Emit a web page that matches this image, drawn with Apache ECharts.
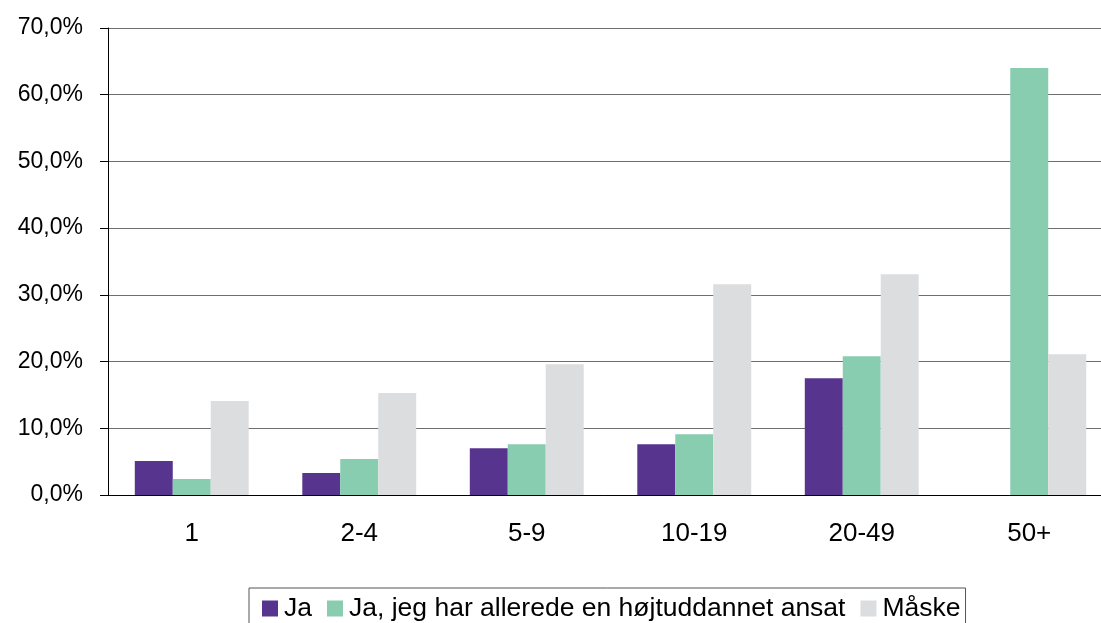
<!DOCTYPE html>
<html>
<head>
<meta charset="utf-8">
<script src="https://cdn.jsdelivr.net/npm/echarts@6/dist/echarts.min.js"></script>
<style>html,body{margin:0;padding:0;background:#fff;overflow:hidden}#c{width:1101px;height:623px}</style>
</head>
<body>
<div id="c"></div>
<script>
const categories = ['1', '2-4', '5-9', '10-19', '20-49', '50+'];
const seriesNames = ['Ja', 'Ja, jeg har allerede en højtuddannet ansat', 'Måske'];
const ja = [5.1, 3.3, 7.0, 7.6, 17.5, 0];
const jaAnsat = [2.4, 5.4, 7.6, 9.1, 20.8, 64.0];
const maaske = [14.1, 15.3, 19.6, 31.6, 33.1, 21.1];
const colors = ['#57358F', '#88CDB0', '#DCDDDF'];

const font = '"Liberation Sans", Arial, sans-serif';
const chart = echarts.init(document.getElementById('c'));
chart.setOption({
  animation: false,
  grid: { left: 108, top: 28, height: 467, width: 1005, outerBoundsMode: 'none', containLabel: false },
  legend: {
    left: 249, top: 588,
    itemWidth: 16, itemHeight: 16, itemGap: 15,
    padding: [7, 5, 9, 13],
    borderColor: '#555', borderWidth: 1, borderRadius: 0,
    icon: 'rect',
    textStyle: { fontFamily: font, fontSize: 26.5, color: '#000', padding: [0, 0, 0, 1] },
    data: seriesNames
  },
  xAxis: {
    type: 'category', data: categories,
    axisLine: { lineStyle: { color: '#000', width: 1 } },
    axisTick: { length: 8, lineStyle: { color: '#000' } },
    axisLabel: { fontFamily: font, fontSize: 26, color: '#000', margin: 26 }
  },
  yAxis: {
    type: 'value', min: 0, max: 70, interval: 10,
    axisLine: { show: true, lineStyle: { color: '#000' } },
    axisTick: { show: true, length: 8, lineStyle: { color: '#000' } },
    axisLabel: { fontFamily: font, fontSize: 23, color: '#000', margin: 25,
      formatter: v => v.toFixed(1).replace('.', ',') + '%' },
    splitLine: { lineStyle: { color: '#6e6e6e', width: 1 } }
  },
  series: [ja, jaAnsat, maaske].map((d, i) => ({
    name: seriesNames[i], type: 'bar', data: d,
    barGap: '0%', barCategoryGap: '32%',
    itemStyle: { color: colors[i] }
  }))
});
</script>
</body>
</html>
